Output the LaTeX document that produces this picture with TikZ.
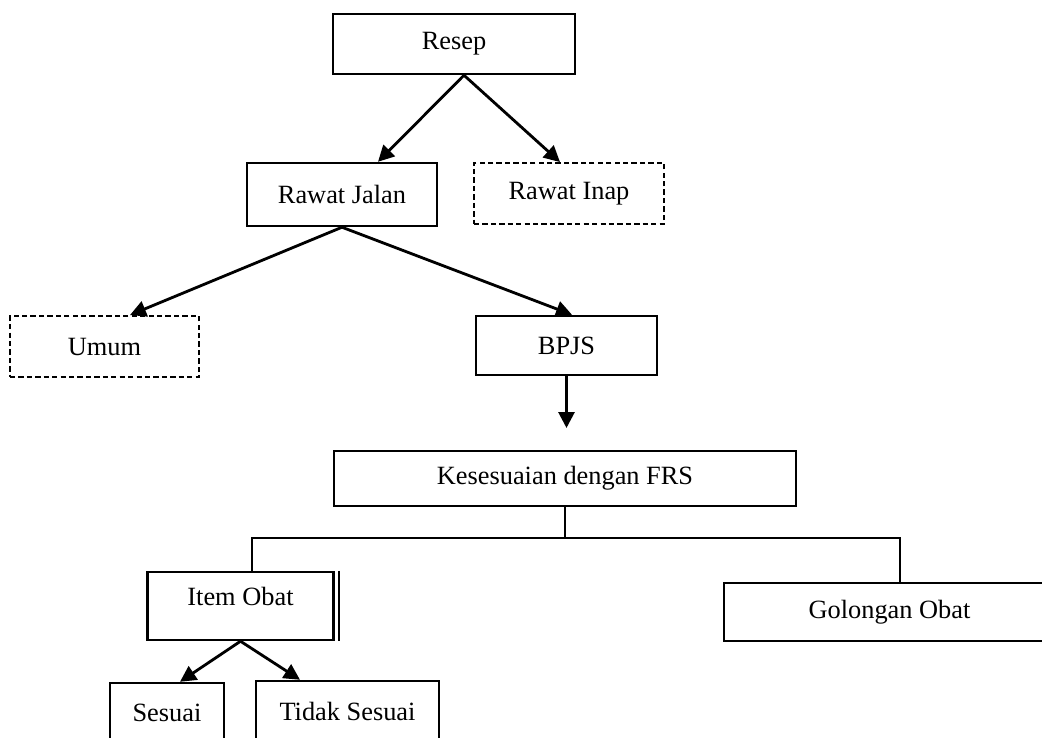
\documentclass[tikz,border=0pt]{standalone}
\usepackage{fontspec}
\setmainfont{Liberation Serif}
\usetikzlibrary{arrows.meta}
\tikzset{box/.style={draw,line width=1.4pt,inner sep=0pt,font=\fontsize{15}{18}\selectfont},
  dbox/.style={box,line width=1.1pt,dash pattern=on 3pt off 1.8pt},
  wire/.style={line width=1.3pt,draw=black},
  arr/.style={wire,line width=1.6pt,-{Triangle[length=0.32cm,width=0.32cm]}}}

\begin{document}
\begin{tikzpicture}
\useasboundingbox (0,0) rectangle (20.84,-14.74);
\clip (0,0) rectangle (20.84,-14.74);
% boxes
\node[box,minimum width=4.84cm,minimum height=1.2cm] (resep) at (9.08,-0.88) {Resep};
\node[box,minimum width=3.8cm,minimum height=1.26cm] (jalan) at (6.84,-3.89) {Rawat Jalan};
\node[dbox,minimum width=3.8cm,minimum height=1.22cm] (inap) at (11.38,-3.87) {Rawat Inap};
\node[dbox,minimum width=3.78cm,minimum height=1.22cm] (umum) at (2.09,-6.93) {Umum};
\node[box,minimum width=3.62cm,minimum height=1.18cm] (bpjs) at (11.33,-6.91) {BPJS};
\node[box,minimum width=9.24cm,minimum height=1.1cm] (kes) at (11.3,-9.57) {Kesesuaian dengan FRS};
\node[box,minimum width=3.72cm,minimum height=1.36cm,text depth=0.38cm] (item) at (4.81,-12.12) {Item Obat};
\node[box,minimum width=6.62cm,minimum height=1.16cm] (gol) at (17.79,-12.24) {Golongan Obat};
\node[box,minimum width=2.28cm,minimum height=1.2cm] (sesuai) at (3.34,-14.26) {Sesuai};
\node[box,minimum width=3.66cm,minimum height=1.2cm] (tidak) at (6.95,-14.22) {Tidak Sesuai};
\draw[wire] ([xshift=0.08cm]item.north east) -- ([xshift=0.08cm]item.south east);
% arrows
\draw[arr] ([xshift=0.2cm]resep.south) -- ([xshift=0.72cm]jalan.north);
\draw[arr] ([xshift=0.2cm]resep.south) -- ([xshift=-0.18cm]inap.north);
\draw[arr] (jalan.south) -- ([xshift=0.51cm]umum.north);
\draw[arr] (jalan.south) -- ([xshift=0.11cm]bpjs.north);
\coordinate (bpjsend) at (11.33,-8.56);
\draw[arr] (bpjs.south) -- (bpjsend);
\draw[wire] (kes.south) -- ++(0,-0.62) coordinate (split);
\draw[wire] ([xshift=0.23cm]item.north) |- (split) -| ([xshift=0.21cm]gol.north);
\draw[arr] (item.south) -- ([xshift=0.26cm]sesuai.north);
\draw[arr] (item.south) -- ([xshift=-0.95cm]tidak.north);
\end{tikzpicture}
\end{document}
